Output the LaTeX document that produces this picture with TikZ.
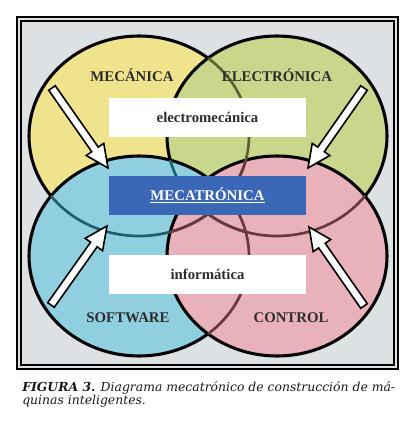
\documentclass[tikz,border=0pt]{standalone}
\usepackage{fontspec}
\setmainfont{Liberation Serif}
\newfontfamily\capfont{DejaVu Serif}
\usetikzlibrary{calc}
\definecolor{bg}{RGB}{221,225,228}
\definecolor{cyel}{RGB}{240,227,142}
\definecolor{cgrn}{RGB}{200,215,140}
\definecolor{cblu}{RGB}{143,207,224}
\definecolor{cpnk}{RGB}{233,178,186}
\definecolor{hgrn}{RGB}{95,95,50}
\definecolor{hblu}{RGB}{30,95,110}
\definecolor{hpnk}{RGB}{105,55,60}
\definecolor{mbox}{RGB}{58,103,182}
\definecolor{lbl}{RGB}{45,45,45}
\tikzset{
  ring/.style={line width=2.3pt, draw=black},
  hidden/.style={line width=2pt},
  whitebox/.style={fill=white, minimum width=147.75pt, minimum height=29.25pt, inner sep=0pt,
    font=\fontsize{11.1}{13}\selectfont\bfseries, text=lbl},
  mainbox/.style={whitebox, fill=mbox, text=white},
  area/.style={font=\fontsize{11.1}{13}\selectfont\bfseries, text=lbl, inner sep=0pt},
  fat/.style={fill=white, draw=black, line width=1.2pt, line join=miter},
  eshape/.style={x radius=110, y radius=100},
  captext/.style={anchor=base west, inner sep=0pt, text=black!90,
    font=\capfont\itshape\fontsize{9.3}{10}\selectfont},
}
\newcommand\fatarrow[2]{%
  \coordinate (fab) at ($(#2)!17pt!(#1)$);
  \draw[fat] ($(#1)!3pt!90:(#2)$) -- ($(fab)!3pt!90:(#2)$) -- ($(fab)!8pt!90:(#2)$)
    -- (#2) -- ($(fab)!8pt!-90:(#2)$) -- ($(fab)!3pt!-90:(#2)$) -- ($(#1)!3pt!-90:(#2)$) -- cycle;
}
\begin{document}
\begin{tikzpicture}[x=0.75pt,y=-0.75pt]
\useasboundingbox (0,0) rectangle (419,424);
% frame
\fill[bg] (17,17) rectangle (398,369);
\draw[line width=1.6pt] (17,17) rectangle (398,369);
\draw[line width=0.8pt] (21,21) rectangle (394,365);
% circle centres
\coordinate (cy) at (139,136);
\coordinate (cg) at (277,136);
\coordinate (cb) at (139,256);
\coordinate (cp) at (277,256);
% discs
\fill[cyel] (cy) ellipse [eshape]; \draw[ring] (cy) ellipse [eshape];
\fill[cgrn] (cg) ellipse [eshape]; \draw[ring] (cg) ellipse [eshape];
\fill[cblu] (cb) ellipse [eshape]; \draw[ring] (cb) ellipse [eshape];
\fill[cpnk] (cp) ellipse [eshape]; \draw[ring] (cp) ellipse [eshape];
% outlines seen through the discs above them
\begin{scope}
  \clip (cg) ellipse [eshape];
  \draw[hidden, hgrn] (cy) ellipse [eshape];
\end{scope}
\begin{scope}
  \clip (cb) ellipse [eshape];
  \draw[hidden, hblu] (cy) ellipse [eshape];
  \draw[hidden, hblu] (cg) ellipse [eshape];
\end{scope}
\begin{scope}
  \clip (cp) ellipse [eshape];
  \draw[hidden, hpnk] (cy) ellipse [eshape];
  \draw[hidden, hpnk] (cg) ellipse [eshape];
  \draw[hidden, hpnk] (cb) ellipse [eshape];
\end{scope}
% arrows
\coordinate (a1t) at (52,88);  \coordinate (a1h) at (108,168);
\coordinate (a2t) at (364,88); \coordinate (a2h) at (308,168);
\coordinate (a3t) at (51,305); \coordinate (a3h) at (107,226);
\coordinate (a4t) at (364,306); \coordinate (a4h) at (309,227);
\fatarrow{a1t}{a1h}
\fatarrow{a2t}{a2h}
\fatarrow{a3t}{a3h}
\fatarrow{a4t}{a4h}
% boxes
\node[whitebox] (em) at (207.5,117.5) {electromecánica};
\node[mainbox] (mt) at (207.5,195.5) {\underline{MECATRÓNICA}};
\node[whitebox] (inf) at (207.5,274.5) {informática};
% area labels
\node[area] (mec) at (132,75) {MECÁNICA};
\node[area] (ele) at (277,75) {ELECTRÓNICA};
\node[area] (sw) at (128,318) {SOFTWARE};
\node[area] (ctl) at (291,318) {CONTROL};
% caption
\node[captext] (cap1) at (22,391)
  {{\bfseries FIGURA 3.} Diagrama mecatrónico de construcción de má-};
\node[captext] (cap2) at (22,404) {quinas inteligentes.};
\end{tikzpicture}
\end{document}
